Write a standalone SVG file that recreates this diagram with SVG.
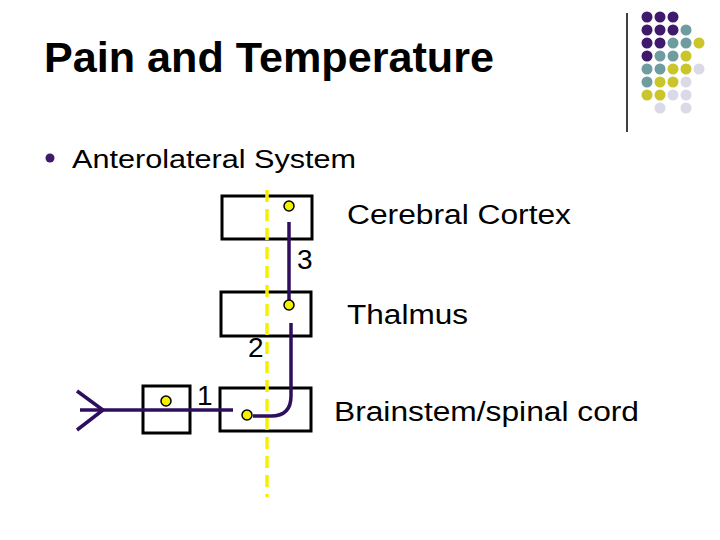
<svg xmlns="http://www.w3.org/2000/svg" width="720" height="540" viewBox="0 0 720 540">
<style>
.t{font-family:"Liberation Sans",Arial,sans-serif;fill:#000}
.box{fill:#fff;stroke:#000;stroke-width:3}
.dot{fill:#f5f000;stroke:#000;stroke-width:1.5}
.path{fill:none;stroke:#2e0f5e;stroke-width:3.5;stroke-linecap:butt}
.pu{fill:#3f1a6c}.te{fill:#6f9c9f}.ye{fill:#c9c52b}.la{fill:#d9d9e8}
</style>
<rect width="720" height="540" fill="#fff"/>
<g id="decor">
<line x1="627" y1="13" x2="627" y2="132" stroke="#000" stroke-width="1.5"/>
<circle class="pu" cx="647" cy="17" r="5.5"/><circle class="pu" cx="660" cy="17" r="5.5"/><circle class="pu" cx="673" cy="17" r="5.5"/>
<circle class="pu" cx="647" cy="30" r="5.5"/><circle class="pu" cx="660" cy="30" r="5.5"/><circle class="pu" cx="673" cy="30" r="5.5"/><circle class="te" cx="686" cy="30" r="5.5"/>
<circle class="pu" cx="647" cy="43" r="5.5"/><circle class="pu" cx="660" cy="43" r="5.5"/><circle class="te" cx="673" cy="43" r="5.5"/><circle class="te" cx="686" cy="43" r="5.5"/><circle class="ye" cx="699" cy="43" r="5.5"/>
<circle class="pu" cx="647" cy="56" r="5.5"/><circle class="te" cx="660" cy="56" r="5.5"/><circle class="te" cx="673" cy="56" r="5.5"/><circle class="ye" cx="686" cy="56" r="5.5"/>
<circle class="te" cx="647" cy="69" r="5.5"/><circle class="te" cx="660" cy="69" r="5.5"/><circle class="ye" cx="673" cy="69" r="5.5"/><circle class="ye" cx="686" cy="69" r="5.5"/><circle class="la" cx="699" cy="69" r="5.5"/>
<circle class="te" cx="647" cy="82" r="5.5"/><circle class="ye" cx="660" cy="82" r="5.5"/><circle class="ye" cx="673" cy="82" r="5.5"/><circle class="la" cx="686" cy="82" r="5.5"/>
<circle class="ye" cx="647" cy="95" r="5.5"/><circle class="ye" cx="660" cy="95" r="5.5"/><circle class="la" cx="673" cy="95" r="5.5"/><circle class="la" cx="686" cy="95" r="5.5"/>
<circle class="la" cx="660" cy="108" r="5.5"/><circle class="la" cx="686" cy="108" r="5.5"/>
</g>
<g id="title">
<text class="t" x="44" y="72" font-size="42" font-weight="bold" textLength="450" lengthAdjust="spacingAndGlyphs">Pain and Temperature</text>
<circle cx="50" cy="158" r="4.5" fill="#3f1a6c"/>
<text class="t" x="72" y="168" font-size="26" textLength="284" lengthAdjust="spacingAndGlyphs">Anterolateral System</text>
</g>
<g id="box-cortex"><rect class="box" x="222" y="196" width="90" height="43"/></g>
<g id="box-thalamus"><rect class="box" x="221" y="292" width="90" height="44"/></g>
<g id="box-brainstem"><rect class="box" x="220" y="388" width="91" height="43"/></g>
<g id="box-ganglion"><rect class="box" x="143" y="386" width="47" height="47"/></g>
<line id="midline" x1="267" y1="190" x2="267" y2="497" stroke="#f5f000" stroke-width="3.5" stroke-dasharray="12,7"/>
<g id="connectors">
<line class="path" x1="80" y1="410" x2="233" y2="410"/>
<polyline class="path" points="77,391 103,410 77,430"/>
<path class="path" d="M291,323 V396 Q291,416 271,416 H253"/>
<line class="path" x1="289" y1="222" x2="289" y2="303"/>
</g>
<g id="dots">
<circle class="dot" cx="289" cy="206" r="5"/>
<circle class="dot" cx="289" cy="305" r="5"/>
<circle class="dot" cx="166" cy="401" r="5"/>
<circle class="dot" cx="247" cy="415" r="5"/>
</g>
<g id="labels">
<text class="t" x="197" y="405" font-size="28">1</text>
<text class="t" x="248" y="357" font-size="28">2</text>
<text class="t" x="297" y="269" font-size="28">3</text>
<text class="t" x="347" y="224" font-size="27" textLength="224" lengthAdjust="spacingAndGlyphs">Cerebral Cortex</text>
<text class="t" x="347" y="324" font-size="27" textLength="121" lengthAdjust="spacingAndGlyphs">Thalmus</text>
<text class="t" x="334" y="421" font-size="27" textLength="305" lengthAdjust="spacingAndGlyphs">Brainstem/spinal cord</text>
</g>
</svg>
